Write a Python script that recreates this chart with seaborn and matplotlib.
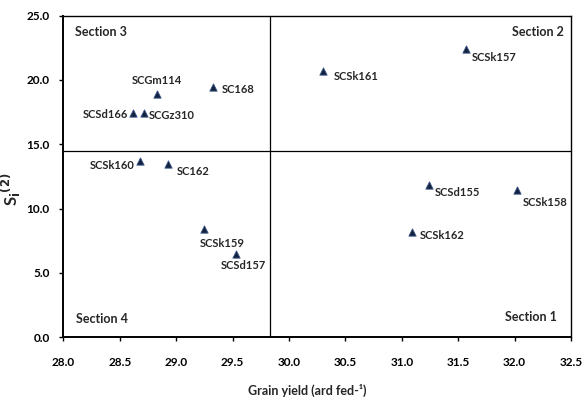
import matplotlib
matplotlib.use("Agg")
import matplotlib.pyplot as plt
import seaborn as sns
import pandas as pd

# hybrids, grain yield and stability variance S_i^(2)
hybrids = ["SCGm114", "SC168", "SCSd166", "SCGz310", "SCSk160", "SC162",
           "SCSk161", "SCSk157", "SCSd155", "SCSk158", "SCSk162", "SCSk159",
           "SCSd157"]
grain_yield = [28.83, 29.33, 28.62, 28.71, 28.68, 28.93,
               30.30, 31.57, 31.24, 32.02, 31.09, 29.25, 29.53]
stability = [18.9, 19.45, 17.45, 17.45, 13.7, 13.45,
             20.7, 22.4, 11.8, 11.45, 8.2, 8.4, 6.45]

mean_yield = 29.83
mean_stability = 14.48

# label offsets in points (dx, dy, ha)
offsets = {
    "SCGm114": (0, 10, "center"), "SC168": (6, -2, "left"),
    "SCSd166": (-4, -1, "right"), "SCGz310": (4, -2, "left"),
    "SCSk160": (-4, -3, "right"), "SC162": (6, -5, "left"),
    "SCSk161": (8, -4, "left"), "SCSk157": (4, -6, "left"),
    "SCSd155": (4, -5, "left"), "SCSk158": (4, -9, "left"),
    "SCSk162": (6, -3, "left"), "SCSk159": (-3, -10, "left"),
    "SCSd157": (-11, -8, "left"),
}

df = pd.DataFrame({"hybrid": hybrids, "yield": grain_yield, "s2": stability})

sns.set_style("ticks")
plt.rcParams["font.family"] = ["Lato", "DejaVu Sans"]

fig = plt.figure(figsize=(5.82, 4.01), dpi=100)
ax = fig.add_axes([0.109, 0.159, 0.872, 0.802])

sns.scatterplot(data=df, x="yield", y="s2", marker="^", s=28,
                color="#14213d", edgecolor="#3a5a8c", linewidth=0.6, ax=ax)

ax.axvline(mean_yield, color="black", lw=0.9)
ax.axhline(mean_stability, color="black", lw=0.9)

for h, x, y in zip(hybrids, grain_yield, stability):
    dx, dy, ha = offsets[h]
    ax.annotate(h, (x, y), xytext=(dx, dy), textcoords="offset points",
                ha=ha, va="center", fontsize=8, fontweight="bold")

ax.text(28.10, 23.75, "Section 3", fontsize=9, fontweight="bold", va="center")
ax.text(32.44, 23.75, "Section 2", fontsize=9, fontweight="bold", va="center", ha="right")
ax.text(28.11, 1.42, "Section 4", fontsize=9, fontweight="bold", va="center")
ax.text(32.375, 1.6, "Section 1", fontsize=9, fontweight="bold", va="center", ha="right")

ax.set_xlim(28.0, 32.5)
ax.set_ylim(0, 25)
ax.set_xticks([28.0, 28.5, 29.0, 29.5, 30.0, 30.5, 31.0, 31.5, 32.0, 32.5])
ax.set_yticks([0, 5, 10, 15, 20, 25])
ax.xaxis.set_major_formatter(matplotlib.ticker.FormatStrFormatter("%.1f"))
ax.yaxis.set_major_formatter(matplotlib.ticker.FormatStrFormatter("%.1f"))
ax.tick_params(labelsize=8.5, direction="out", length=3, width=1, colors="black")
ax.tick_params(axis="x", pad=11)
ax.tick_params(axis="y", pad=7)
for lab in ax.get_xticklabels() + ax.get_yticklabels():
    lab.set_fontweight("bold")
for sp in ax.spines.values():
    sp.set_color("black")
    sp.set_linewidth(1.0)
ax.spines["left"].set_linewidth(1.4)
ax.spines["bottom"].set_linewidth(1.4)

ax.set_xlabel("Grain yield (ard fed-\u00b9)", fontsize=9, fontweight="bold")
ax.xaxis.set_label_coords(0.48, -0.145)
ax.set_ylabel("S$_\\mathbf{i}$$^{\\mathbf{(2)}}$", fontsize=12, fontweight="bold")
ax.yaxis.set_label_coords(-0.08, 0.46)

fig.savefig("out.png", dpi=100)
